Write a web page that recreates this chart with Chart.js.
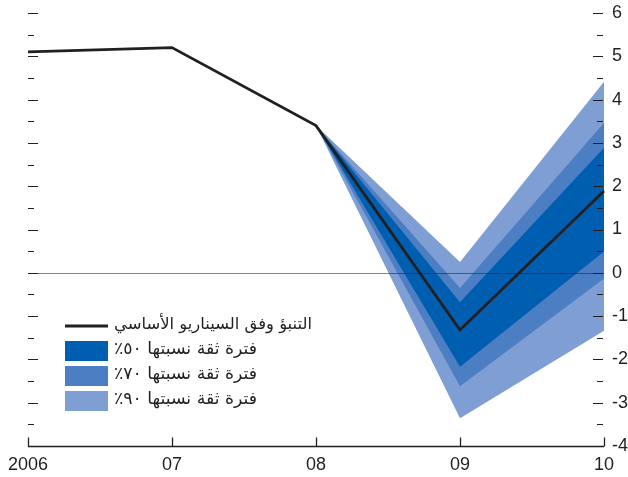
<!DOCTYPE html>
<html>
<head>
<meta charset="utf-8">
<script src="https://cdn.jsdelivr.net/npm/chart.js@4"></script>
<style>
html,body{margin:0;padding:0;background:#fff;}
#wrap{position:relative;width:628px;height:477px;}
</style>
</head>
<body>
<div id="wrap"><canvas id="c" width="628" height="477"></canvas></div>
<script>
// ---- data ----
const years = ['2006', '07', '08', '09', '10'];
const baseline = [5.1, 5.2, 3.4, -1.32, 1.89];
const upper50 = [null, null, 3.4, -0.68, 2.89];
const lower50 = [null, null, 3.4, -2.17, 0.49];
const upper70 = [null, null, 3.4, -0.35, 3.46];
const lower70 = [null, null, 3.4, -2.62, -0.13];
const upper90 = [null, null, 3.4, 0.25, 4.41];
const lower90 = [null, null, 3.4, -3.36, -1.34];
const yMin = -4, yMax = 6;
const legendLabels = [
  'التنبؤ وفق السيناريو الأساسي',
  'فترة ثقة نسبتها ٥٠٪',
  'فترة ثقة نسبتها ٧٠٪',
  'فترة ثقة نسبتها ٩٠٪'
];

const C50 = '#005eb0', C70 = '#4b7ec2', C90 = '#7f9ed3';
const INK = '#231f20';
const NUMFONT = '"Liberation Sans Narrow", "Liberation Sans", Arial, sans-serif';
const ARFONT = '"DejaVu Sans", "Noto Sans", sans-serif';

const decor = {
  id: 'decor',
  afterDatasetsDraw(chart) {
    const ctx = chart.ctx, a = chart.chartArea;
    const y = chart.scales.y;
    ctx.save();
    const y0 = Math.round(y.getPixelForValue(0)) + 0.5;
    ctx.strokeStyle = 'rgba(35,31,32,0.55)';
    ctx.lineWidth = 1.2;
    ctx.beginPath(); ctx.moveTo(a.left, y0); ctx.lineTo(a.right, y0); ctx.stroke();
    ctx.restore();
  },
  afterDraw(chart) {
    const ctx = chart.ctx, a = chart.chartArea;
    const y = chart.scales.y, x = chart.scales.x;
    ctx.save();
    ctx.strokeStyle = INK;
    ctx.lineWidth = 1;
    for (let v = yMin; v <= yMax; v += 0.5) {
      const py = Math.round(y.getPixelForValue(v)) + 0.5;
      if (v === yMin) continue;
      const major = Number.isInteger(v);
      const len = major ? 10 : 6;
      ctx.beginPath(); ctx.moveTo(a.left, py); ctx.lineTo(a.left + len, py); ctx.stroke();
      ctx.beginPath(); ctx.moveTo(a.right - 1 - len, py); ctx.lineTo(a.right - 1, py); ctx.stroke();
    }
    const pb = Math.round(a.bottom) + 0.5;
    ctx.lineWidth = 1.3;
    ctx.beginPath(); ctx.moveTo(a.left, pb); ctx.lineTo(a.right, pb); ctx.stroke();
    for (let i = 0; i < years.length; i++) {
      const px = Math.round(x.getPixelForValue(i)) + 0.5;
      ctx.beginPath(); ctx.moveTo(px, pb); ctx.lineTo(px, pb - 9); ctx.stroke();
    }
    // legend
    const lx = 65, lw = 43;
    ctx.strokeStyle = INK; ctx.lineWidth = 2.8;
    ctx.beginPath(); ctx.moveTo(lx, 326); ctx.lineTo(lx + lw, 326); ctx.stroke();
    const sw = [[C50, 341], [C70, 366], [C90, 391]];
    sw.forEach(([c, t]) => { ctx.fillStyle = c; ctx.fillRect(lx, t, lw, 20); });
    ctx.fillStyle = INK;
    ctx.direction = 'rtl';
    ctx.textAlign = 'right';
    ctx.textBaseline = 'middle';
    ctx.font = '16.4px ' + ARFONT;
    ctx.fillText(legendLabels[0], 312, 325);
    ctx.font = '17.3px ' + ARFONT;
    ctx.fillText(legendLabels[1], 257, 350);
    ctx.fillText(legendLabels[2], 257, 375);
    ctx.fillText(legendLabels[3], 257, 400);
    ctx.restore();
  }
};

const band = (data, color, fill) => ({
  data, backgroundColor: color, borderWidth: 0, pointRadius: 0, fill: fill, spanGaps: false, tension: 0
});

new Chart(document.getElementById('c'), {
  type: 'line',
  data: {
    labels: years,
    datasets: [
      { data: baseline, borderColor: INK, borderWidth: 2.8, pointRadius: 0, fill: false, tension: 0 },
      band(upper50, C50, '+1'), band(lower50, C50, false),
      band(upper70, C70, '+1'), band(lower70, C70, false),
      band(upper90, C90, '+1'), band(lower90, C90, false)
    ]
  },
  options: {
    responsive: false,
    animation: false,
    devicePixelRatio: 1,
    layout: { padding: { top: 13, left: 28, right: 0, bottom: 0 } },
    plugins: { legend: { display: false }, tooltip: { enabled: false } },
    elements: { line: { borderJoinStyle: 'miter' } },
    scales: {
      x: {
        type: 'category', offset: false,
        grid: { display: false, drawTicks: false },
        border: { display: false },
        ticks: { color: INK, font: { family: NUMFONT, size: 18 }, padding: 8, maxRotation: 0, autoSkip: false },
        afterFit(s) { s.height = 31; s.paddingLeft = 0; s.paddingRight = 0; }
      },
      y: {
        position: 'right', min: yMin, max: yMax,
        grid: { display: false, drawTicks: false },
        border: { display: false },
        ticks: { stepSize: 1, color: INK, font: { family: NUMFONT, size: 18 }, padding: 8,
          callback: v => String(v) },
        afterFit(s) { s.width = 24; s.paddingTop = 0; s.paddingBottom = 0; }
      }
    }
  },
  plugins: [decor]
});
</script>
</body>
</html>
